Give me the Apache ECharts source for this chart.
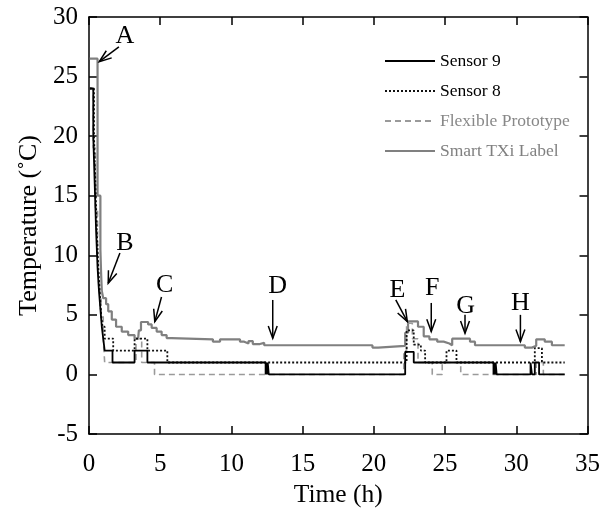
<!DOCTYPE html>
<html>
<head>
<meta charset="utf-8">
<script src="https://cdn.jsdelivr.net/npm/echarts@6/dist/echarts.min.js"></script>
<style>html,body{margin:0;padding:0;background:#fff}#c{width:603px;height:517px}</style>
</head>
<body>
<div id="c"></div>
<script>
// ---- data (time in h, temperature in °C); each point starts a step ----
var seriesNames = ['Sensor 9', 'Sensor 8', 'Flexible Prototype', 'Smart TXi Label'];
var sensor9 = [[0.05,24],[0.3,20],[0.4,16],[0.5,12],[0.6,9],[0.7,7],[0.8,5.5],[0.9,4],[1.0,3],[1.1,2],[1.65,1],[3.2,2],[4.1,1],[12.4,0],[12.45,1],[12.5,0],[12.55,1],[12.62,0],[22.2,1.9],[22.8,1],[28.4,0],[28.45,1],[28.5,0],[28.55,1],[28.62,0],[31.0,1],[31.1,0],[31.3,1],[31.6,0],[33.4,0]];
var sensor8 = [[0.05,24],[0.35,20],[0.45,16],[0.55,12],[0.65,9],[0.75,7],[0.85,5],[0.95,4],[1.1,3],[1.7,2],[3.2,3],[4.1,2],[5.5,1],[22.3,3.7],[22.8,2.5],[23.3,2.0],[23.6,1],[25.1,2],[25.8,1],[31.3,2.2],[31.8,1],[33.4,1]];
var flexible = [[0.05,24],[0.3,19],[0.45,14],[0.6,10],[0.7,7],[0.85,5],[1.0,3],[1.1,1],[3.3,3],[3.7,1],[4.6,0],[22.1,2],[22.3,4.3],[22.7,3],[23.1,1],[24.1,0],[24.8,1],[26.1,0],[31.4,1],[31.9,0],[33.4,0]];
var smartTXi = [[0.05,26.5],[0.6,15],[0.8,10.5],[0.85,8.5],[0.9,7.0],[1.0,6.4],[1.2,5.9],[1.35,5.3],[1.6,4.6],[1.9,4.0],[2.3,3.6],[2.75,3.3],[3.2,3.0],[3.45,2.9],[3.5,3.7],[3.65,4.4],[4.15,4.2],[4.4,3.9],[4.75,3.6],[5.1,3.3],[5.45,3.05],[5.8,2.95],[8.7,2.75],[9.2,2.95],[10.6,2.75],[10.9,2.6],[11.2,2.8],[11.5,2.55],[12.0,2.65],[12.3,2.45],[19.9,2.25],[20.3,2.4],[22.2,3.5],[22.4,4.45],[23.1,4.0],[23.5,3.2],[23.9,2.95],[24.45,2.75],[24.9,2.6],[25.3,2.45],[25.5,3.0],[26.75,2.75],[27.1,2.45],[30.6,2.25],[31.1,2.4],[31.4,2.95],[32.0,2.75],[32.5,2.45],[33.4,2.45]];

// ---- annotations: letter, text position, arrow tail, arrow tip (data coords) ----
var annLabels = ['A','B','C','D','E','F','G','H'];
var annText = [[2.52,28.35],[2.52,11.0],[5.32,7.5],[13.25,7.4],[21.65,7.1],[24.1,7.2],[26.44,5.7],[30.29,6.0]];
var annTail = [[2.1,27.5],[2.17,10.2],[5.09,6.5],[12.9,6.25],[21.54,6.25],[24.03,6.0],[26.4,5.0],[30.29,5.0]];
var annTip = [[0.72,26.25],[1.35,7.65],[4.62,4.43],[12.9,3.03],[22.35,4.43],[24.03,3.6],[26.4,3.45],[30.29,2.75]];

// ---- axis ticks ----
var xTicks = {min: 0, max: 35, interval: 5};
var yTicks = {min: -5, max: 30, interval: 5};

var FONT = '"Liberation Serif", "DejaVu Serif", serif';
var chart = echarts.init(document.getElementById('c'), null, {renderer: 'canvas'});

function stepSeries(name, data, color, width, type, z) {
  return {
    name: name, type: 'line', data: data, step: 'end', symbol: 'none',
    lineStyle: {color: color, width: width, type: type}, itemStyle: {color: color},
    z: z, animation: false
  };
}

var annData = annLabels.map(function (l, i) { return [annTip[i][0], annTip[i][1], i]; });

var axisLineStyle = {onZero: false, lineStyle: {color: '#000', width: 1.5}};
var tickStyle = {inside: true, length: 8, lineStyle: {color: '#000', width: 1.5}};
var option = {
  animation: false,
  grid: {left: 89, right: 14, top: 17, bottom: 83},
  xAxis: [{
    type: 'value', min: xTicks.min, max: xTicks.max, interval: xTicks.interval, position: 'bottom',
    axisLine: axisLineStyle, axisTick: tickStyle,
    axisLabel: {color: '#000', fontFamily: FONT, fontSize: 25, margin: 18},
    splitLine: {show: false},
    name: 'Time (h)', nameLocation: 'middle', nameGap: 46,
    nameTextStyle: {color: '#000', fontFamily: FONT, fontSize: 25.5}
  }, {
    type: 'value', min: xTicks.min, max: xTicks.max, interval: xTicks.interval, position: 'top',
    axisLine: axisLineStyle, axisTick: tickStyle,
    axisLabel: {show: false}, splitLine: {show: false}
  }],
  yAxis: [{
    type: 'value', min: yTicks.min, max: yTicks.max, interval: yTicks.interval, position: 'left',
    axisLine: axisLineStyle, axisTick: tickStyle,
    axisLabel: {color: '#000', fontFamily: FONT, fontSize: 25, margin: 11},
    splitLine: {show: false},
    name: 'Temperature (\u02DAC)', nameLocation: 'middle', nameGap: 46, nameRotate: 90,
    nameTextStyle: {color: '#000', fontFamily: FONT, fontSize: 26}
  }, {
    type: 'value', min: yTicks.min, max: yTicks.max, interval: yTicks.interval, position: 'right',
    axisLine: axisLineStyle, axisTick: tickStyle,
    axisLabel: {show: false}, splitLine: {show: false}
  }],
  legend: {
    orient: 'vertical', left: 379, top: 47, itemWidth: 50, itemHeight: 12, itemGap: 12,
    itemStyle: {opacity: 0},
    textStyle: {fontFamily: FONT, fontSize: 17.5, color: '#000'},
    data: [
      {name: seriesNames[0], textStyle: {color: '#000'}},
      {name: seriesNames[1], textStyle: {color: '#000'}},
      {name: seriesNames[2], textStyle: {color: '#888'}},
      {name: seriesNames[3], textStyle: {color: '#808080'}}
    ]
  },
  series: [
    stepSeries(seriesNames[3], smartTXi, '#808080', 2.2, 'solid', 2),
    stepSeries(seriesNames[2], flexible, '#9a9a9a', 1.6, [6, 4], 3),
    stepSeries(seriesNames[1], sensor8, '#111', 1.8, [2, 2], 4),
    stepSeries(seriesNames[0], sensor9, '#000', 1.8, 'solid', 5),
    {
      type: 'custom', coordinateSystem: 'cartesian2d', data: annData, z: 10, silent: true,
      clip: false,
      renderItem: function (params, api) {
        var i = api.value(2);
        var t = api.coord(annText[i]);
        var a = api.coord(annTail[i]);
        var b = api.coord(annTip[i]);
        var ang = Math.atan2(b[1] - a[1], b[0] - a[0]);
        var L = 13, w = 0.35;
        var h1 = [b[0] - L * Math.cos(ang - w), b[1] - L * Math.sin(ang - w)];
        var h2 = [b[0] - L * Math.cos(ang + w), b[1] - L * Math.sin(ang + w)];
        var st = {stroke: '#000', lineWidth: 1.5, fill: null};
        return {
          type: 'group',
          children: [
            {type: 'text', style: {text: annLabels[i], x: t[0], y: t[1], align: 'center', verticalAlign: 'middle',
              font: '26px ' + FONT, fill: '#000'}},
            {type: 'line', shape: {x1: a[0], y1: a[1], x2: b[0], y2: b[1]}, style: st},
            {type: 'polyline', shape: {points: [h1, b, h2]}, style: st}
          ]
        };
      }
    }
  ]
};
chart.setOption(option);
</script>
</body>
</html>
